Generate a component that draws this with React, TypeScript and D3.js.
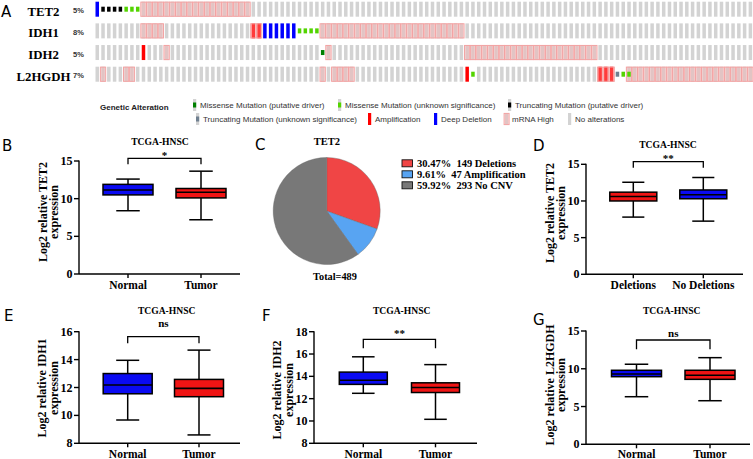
import React from 'react';
import * as d3 from 'd3';

// ---------- Oncoprint data ----------
const GENES = ['TET2', 'IDH1', 'IDH2', 'L2HGDH'];
const GENE_PCT = ['5%', '8%', '5%', '7%'];
const N_SAMPLES = 114;
// runs: [firstColumn, lastColumn, code]
// D deep deletion, A amplification, H mRNA high, T trunc driver, t trunc unknown, M missense driver, m missense unknown
const TET2_ALT: [number, number, string][] = [[0, 0, 'D'], [1, 4, 'T'], [5, 7, 'm'], [8, 26, 'H']];
const IDH1_ALT: [number, number, string][] = [[8, 11, 'H'], [27, 28, 'AH'], [29, 34, 'D'], [35, 38, 'm'], [39, 63, 'H']];
const IDH2_ALT: [number, number, string][] = [[8, 8, 'A'], [12, 12, 'H'], [39, 39, 'M'], [40, 40, 'H'], [64, 86, 'H']];
const L2HGDH_ALT: [number, number, string][] = [[1, 1, 'H'], [5, 6, 'H'], [39, 39, 'H'], [41, 44, 'H'], [64, 64, 'A'], [65, 65, 'm'], [87, 89, 'AH'], [90, 90, 't'], [91, 91, 'm'], [92, 92, 'mH'], [93, 113, 'H']];
const GENE_ALTS = [TET2_ALT, IDH1_ALT, IDH2_ALT, L2HGDH_ALT];

const LEGEND_ROW1 = ['Missense Mutation (putative driver)', 'Missense Mutation (unknown significance)', 'Truncating Mutation (putative driver)'];
const LEGEND_ROW1_CODES = ['Mg', 'mg', 'Tg'];
const LEGEND_ROW2 = ['Truncating Mutation (unknown significance)', 'Amplification', 'Deep Deletion', 'mRNA High', 'No alterations'];
const LEGEND_ROW2_CODES = ['tg', 'A', 'D', 'H', ''];

// ---------- Pie data ----------
const PIE_LABELS = ['30.47%  149 Deletions', '9.61%  47 Amplification', '59.92%  293 No CNV'];
const PIE_VALUES = [149, 47, 293];

// ---------- Box plot data: [min, q1, median, q3, max] ----------
const B_CATS = ['Normal', 'Tumor'];
const B_STATS = [[8.4, 10.5, 11.15, 11.9, 12.6], [7.2, 10.1, 10.85, 11.35, 13.65]];
const D_CATS = ['Deletions', 'No Deletions'];
const D_STATS = [[7.8, 10.0, 10.6, 11.2, 12.55], [7.25, 10.3, 10.85, 11.5, 13.2]];
const E_CATS = ['Normal', 'Tumor'];
const E_STATS = [[9.67, 11.55, 12.18, 13.0, 13.95], [8.6, 11.34, 11.94, 12.58, 14.68]];
const F_CATS = ['Normal', 'Tumor'];
const F_STATS = [[12.48, 13.28, 13.65, 14.38, 15.75], [10.15, 12.55, 13.0, 13.42, 15.05]];
const G_CATS = ['Normal', 'Tumor'];
const G_STATS = [[6.3, 8.95, 9.3, 9.8, 10.6], [5.77, 8.6, 9.14, 9.8, 11.47]];
const TICKS_0_15 = [0, 5, 10, 15];
const TICKS_E = [8, 10, 12, 14, 16];
const TICKS_F = [8, 10, 12, 14, 16, 18];

const SERIF = '"Liberation Serif", "Times New Roman", serif';
const SANS = '"Liberation Sans", Arial, sans-serif';
const LETTER = '"DejaVu Sans", sans-serif';

const BLUE = '#0a0af2';
const RED = '#f01414';

const COLORS: Record<string, string> = {
  gray: '#d3d3d3', A: '#ff0000', D: '#0000ff', M: '#008000', m: '#53d400', T: '#000000', t: '#708090', Hs: '#f3a3a3', Hf: 'rgba(255,170,170,0.35)'
};

const PANELS = [
  { letter: 'B', lx: 2, ly: 151, cats: B_CATS, stats: B_STATS, colors: [BLUE, RED], gene: 'TET2', domain: [0, 15], ticks: TICKS_0_15, y0: 274, y1: 161, axisX: 79, xEnd: 240, c1: 128, c2: 201, bw: 50, titleY: 145, titleX: 160, brY: 158.3, brLeg: 6, sig: '*', sigY: 158.5, labX: [-32.5, -21], labY: 212, xlabY: 289 },
  { letter: 'D', lx: 533, ly: 151, cats: D_CATS, stats: D_STATS, colors: [RED, BLUE], gene: 'TET2', domain: [0, 15], ticks: TICKS_0_15, y0: 274.3, y1: 164.3, axisX: 586, xEnd: 743, c1: 633.3, c2: 703.3, bw: 47, titleY: 148, titleX: 668, brY: 161.7, brLeg: 6, sig: '**', sigY: 161.5, labX: [-32.5, -21], labY: 213, xlabY: 289 },
  { letter: 'E', lx: 4, ly: 321, cats: E_CATS, stats: E_STATS, colors: [BLUE, RED], gene: 'IDH1', domain: [8, 16], ticks: TICKS_E, y0: 443.3, y1: 331.7, axisX: 79, xEnd: 240, c1: 127.7, c2: 199, bw: 49, titleY: 314, titleX: 166.7, brY: 336.7, brLeg: 6.6, sig: 'ns', sigY: 327, labX: [-33, -21.5], labY: 388, xlabY: 458 },
  { letter: 'F', lx: 262, ly: 321, cats: F_CATS, stats: F_STATS, colors: [BLUE, RED], gene: 'IDH2', domain: [8, 18], ticks: TICKS_F, y0: 443.3, y1: 331.7, axisX: 314, xEnd: 477, c1: 363.3, c2: 435.5, bw: 48, titleY: 314, titleX: 401.7, brY: 339.3, brLeg: 9, sig: '**', sigY: 337, labX: [-33, -21.5], labY: 390, xlabY: 458 },
  { letter: 'G', lx: 533, ly: 325, cats: G_CATS, stats: G_STATS, colors: [BLUE, RED], gene: 'L2HGDH', domain: [0, 15], ticks: TICKS_0_15, y0: 444.3, y1: 331, axisX: 586, xEnd: 750, c1: 636.5, c2: 710, bw: 50, titleY: 314, titleX: 671.7, brY: 340, brLeg: 9.3, sig: 'ns', sigY: 337, labX: [-32.5, -21], labY: 385, xlabY: 458 },
];

function Cell({ x, top, h, w, code }: { x: number; top: number; h: number; w: number; code: string }) {
  const els: React.ReactNode[] = [];
  const hasMut = /[MmTt]/.test(code);
  const hasH = code.includes('H');
  const mutCode = (code.match(/[MmTt]/) || [''])[0];
  if (code.includes('A')) els.push(<rect key="a" x={x} y={top} width={w} height={h} fill={COLORS.A} />);
  else if (code.includes('D')) els.push(<rect key="d" x={x} y={top} width={w} height={h} fill={COLORS.D} />);
  else if (!hasMut || hasH || code.includes('g')) els.push(<rect key="g" x={x} y={top} width={w} height={h} fill={COLORS.gray} />);
  if (hasH) els.push(<rect key="h" x={x - 0.9} y={top + 0.4} width={w + 1.8} height={h - 0.8} fill={COLORS.Hf} stroke={COLORS.Hs} strokeWidth={1} />);
  if (hasMut) els.push(<rect key="mu" x={x} y={top + h / 2 - 2.5} width={w} height={5} fill={COLORS[mutCode]} />);
  return <g>{els}</g>;
}

function Oncoprint() {
  const colX = d3.scaleLinear().domain([0, N_SAMPLES]).range([95.5, 95.5 + N_SAMPLES * 5.78]);
  const rowY = d3.scaleLinear().domain([0, GENES.length]).range([1.7, 1.7 + GENES.length * 21.67]);
  const barW = 3.5;
  const barH = 15;
  return (
    <g>
      <text x={1} y={17} fontFamily={LETTER} fontSize={15}>A</text>
      {GENES.map((g, gi) => {
        const codes: string[] = d3.range(N_SAMPLES).map(() => '');
        GENE_ALTS[gi].forEach(([s, e, c]) => { for (let i = s; i <= e; i++) codes[i] = c; });
        const top = rowY(gi);
        return (
          <g key={g}>
            <text x={43.5} y={top + 14} textAnchor="middle" fontFamily={SERIF} fontWeight="bold" fontSize={12.8}>{g}</text>
            <text x={73} y={top + 11.5} fontFamily={SANS} fontWeight="bold" fontSize={7.5} fill="#333">{GENE_PCT[gi]}</text>
            {codes.map((c, i) => <Cell key={i} x={colX(i)} top={top} h={barH} w={barW} code={c} />)}
          </g>
        );
      })}
      <text x={100} y={110} fontFamily={SANS} fontWeight="bold" fontSize={8} fill="#222">Genetic Alteration</text>
      {[
        { items: LEGEND_ROW1, codes: LEGEND_ROW1_CODES, xs: [193, 338, 508], cy: 105 },
        { items: LEGEND_ROW2, codes: LEGEND_ROW2_CODES, xs: [196, 368, 434, 505, 568], cy: 119 },
      ].map((row, ri) => (
        <g key={ri}>
          {row.items.map((t, i) => (
            <g key={t}>
              <Cell x={row.xs[i]} top={row.cy - 6} h={12} w={3.2} code={row.codes[i]} />
              <text x={row.xs[i] + 7} y={row.cy + 3} fontFamily={SANS} fontSize={8} fill="#333">{t}</text>
            </g>
          ))}
        </g>
      ))}
    </g>
  );
}

function Pie() {
  const cx = 326.7, cy = 211, r = 53.5;
  const pie = d3.pie<number>().sort(null).value(d => d);
  const arc = d3.arc<d3.PieArcDatum<number>>().innerRadius(0).outerRadius(r);
  const arcs = pie(PIE_VALUES);
  const colors = ['#f04545', '#58a4f2', '#787878'];
  const ly = d3.scaleLinear().domain([0, 1]).range([163.3, 174.3]);
  return (
    <g>
      <text x={255} y={150} fontFamily={LETTER} fontSize={15}>C</text>
      <text x={327} y={145} textAnchor="middle" fontFamily={SERIF} fontWeight="bold" fontSize={10.5}>TET2</text>
      <g transform={`translate(${cx},${cy})`}>
        {arcs.map((a, i) => <path key={i} d={arc(a) || ''} fill={colors[i]} stroke="#666" strokeWidth={0.4} />)}
      </g>
      {PIE_LABELS.map((t, i) => (
        <g key={t}>
          <rect x={402} y={ly(i) - 3.5} width={10.5} height={7} fill={colors[i]} stroke="#111" strokeWidth={0.9} />
          <text x={417} y={ly(i) + 3.6} fontFamily={SERIF} fontWeight="bold" fontSize={10.5} style={{ whiteSpace: 'pre' }}>{t}</text>
        </g>
      ))}
      <text x={335} y={280} textAnchor="middle" fontFamily={SERIF} fontWeight="bold" fontSize={10.3}>Total=489</text>
    </g>
  );
}

function BoxPanel({ p }: { p: typeof PANELS[number] }) {
  const y = d3.scaleLinear().domain(p.domain).range([p.y0, p.y1]);
  const x = d3.scalePoint<string>().domain(p.cats).range([p.c1, p.c2]);
  const cap = p.bw * 0.47;
  const xs = p.cats.map(c => x(c) as number);
  return (
    <g>
      <text x={p.lx} y={p.ly} fontFamily={LETTER} fontSize={15}>{p.letter}</text>
      <text x={p.titleX} y={p.titleY} textAnchor="middle" fontFamily={SERIF} fontWeight="bold" fontSize={9.6}>TCGA-HNSC</text>
      <line x1={p.axisX} x2={p.axisX} y1={p.y1 - 0.5} y2={p.y0} stroke="#000" strokeWidth={1.4} />
      <line x1={p.axisX} x2={p.xEnd} y1={p.y0} y2={p.y0} stroke="#000" strokeWidth={1.4} />
      {p.ticks.map(t => (
        <g key={t}>
          <line x1={p.axisX - 5} x2={p.axisX} y1={y(t)} y2={y(t)} stroke="#000" strokeWidth={1.4} />
          <text x={p.axisX - 6.5} y={y(t) + 4} textAnchor="end" fontFamily={SERIF} fontWeight="bold" fontSize={12}>{t}</text>
        </g>
      ))}
      {p.cats.map((c, i) => (
        <g key={c}>
          <line x1={xs[i]} x2={xs[i]} y1={p.y0} y2={p.y0 + 4} stroke="#000" strokeWidth={1.4} />
          <text x={xs[i]} y={p.xlabY} textAnchor="middle" fontFamily={SERIF} fontWeight="bold" fontSize={11.5}>{c}</text>
        </g>
      ))}
      <g transform={`translate(${p.axisX + p.labX[0]},${p.labY}) rotate(-90)`}>
        <text x={0} y={0} textAnchor="middle" fontFamily={SERIF} fontWeight="bold" fontSize={12}>{`Log2 relative ${p.gene}`}</text>
      </g>
      <g transform={`translate(${p.axisX + p.labX[1]},${p.labY}) rotate(-90)`}>
        <text x={0} y={0} textAnchor="middle" fontFamily={SERIF} fontWeight="bold" fontSize={12}>expression</text>
      </g>
      {p.stats.map((s, i) => {
        const cxp = xs[i];
        const [mn, q1, md, q3, mx] = s;
        return (
          <g key={i} stroke="#000" strokeWidth={1.5}>
            <line x1={cxp} x2={cxp} y1={y(mx)} y2={y(q3)} />
            <line x1={cxp} x2={cxp} y1={y(q1)} y2={y(mn)} />
            <line x1={cxp - cap / 2} x2={cxp + cap / 2} y1={y(mx)} y2={y(mx)} />
            <line x1={cxp - cap / 2} x2={cxp + cap / 2} y1={y(mn)} y2={y(mn)} />
            <rect x={cxp - p.bw / 2} y={y(q3)} width={p.bw} height={y(q1) - y(q3)} fill={p.colors[i]} />
            <line x1={cxp - p.bw / 2} x2={cxp + p.bw / 2} y1={y(md)} y2={y(md)} strokeWidth={1.6} />
          </g>
        );
      })}
      <path d={`M${xs[0]},${p.brY + p.brLeg}V${p.brY}H${xs[1]}V${p.brY + p.brLeg}`} fill="none" stroke="#000" strokeWidth={1.3} />
      <text x={(xs[0] + xs[1]) / 2} y={p.sigY} textAnchor="middle" fontFamily={SERIF} fontWeight="bold" fontSize={11}>{p.sig}</text>
    </g>
  );
}

export default function App() {
  return (
    <svg width={753} height={459} viewBox="0 0 753 459" style={{ position: 'absolute', left: 0, top: 0, background: '#fff' }}>
      <rect width={753} height={459} fill="#fff" />
      <Oncoprint />
      <Pie />
      {PANELS.map(p => <BoxPanel key={p.letter} p={p} />)}
    </svg>
  );
}
